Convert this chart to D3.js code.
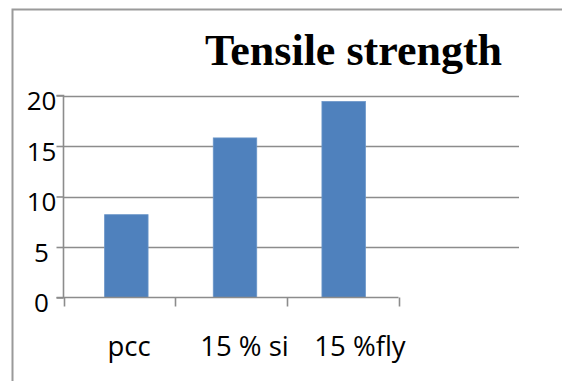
<!DOCTYPE html>
<html>
<head>
<meta charset="utf-8">
<script src="https://cdn.jsdelivr.net/npm/d3@7/dist/d3.min.js"></script>
<style>
  html, body { margin: 0; padding: 0; background: #fff; }
  svg { display: block; }
</style>
</head>
<body>
<svg id="chart" width="562" height="381"></svg>
<script>
const categories = ["pcc", "15 % si", "15 %fly"];
const values = [8.2, 15.8, 19.4];
const yTicks = [0, 5, 10, 15, 20];
const title = "Tensile strength";

const svg = d3.select("#chart");
const W = 562, H = 381;

svg.append("rect").attr("width", W).attr("height", H).attr("fill", "#fff");

// outer frame (left and top)
svg.append("path")
  .attr("d", `M12.5,${H} V9.5 H${W}`)
  .attr("fill", "none").attr("stroke", "#9a9a9a").attr("stroke-width", 2);

const y = d3.scaleLinear().domain([0, 20]).range([297.5, 95.5]);
const xAxisScale = d3.scaleBand().domain(categories).range([63.5, 398.5]);
const xBar = d3.scaleBand().domain(categories).range([72, 398]).paddingInner(0.6).paddingOuter(0.3);
const xLabel = d3.scalePoint().domain(categories).range([129, 360]);

// gridlines
svg.append("g").selectAll("line").data(yTicks.filter(d => d > 0)).join("line")
  .attr("x1", 63.5).attr("x2", 519)
  .attr("y1", d => Math.round(y(d)) + 0.5).attr("y2", d => Math.round(y(d)) + 0.5)
  .attr("stroke", "#8c8c8c").attr("stroke-width", 1.6);

// bars
svg.append("g").selectAll("rect").data(values).join("rect")
  .attr("x", (d, i) => xBar(categories[i]))
  .attr("width", xBar.bandwidth())
  .attr("y", d => y(d))
  .attr("height", d => y(0) - y(d))
  .attr("fill", "#4f81bd")
  .attr("stroke", "#6a95c8").attr("stroke-width", 0.8);

// y axis
const yAxis = svg.append("g").attr("transform", "translate(63.5,0)")
  .call(d3.axisLeft(y).tickValues(yTicks).tickSize(7).tickFormat(d3.format("d")));
yAxis.select(".domain").attr("stroke", "#8c8c8c").attr("stroke-width", 1.6)
  .attr("d", `M-7,${y(20)}H0V${y(0)}H-7`);
yAxis.selectAll(".tick line").attr("stroke", "#8c8c8c").attr("stroke-width", 1.6);
yAxis.selectAll(".tick text")
  .attr("x", -22).attr("dy", "0.55em")
  .attr("text-anchor", "middle")
  .attr("fill", "#000")
  .style("font-family", "'Open Sans', 'Noto Sans', sans-serif")
  .style("font-size", "26px");

// x axis
const xAxis = svg.append("g").attr("transform", `translate(0,${y(0)})`)
  .call(d3.axisBottom(xAxisScale).tickSize(0).tickFormat(""));
xAxis.select(".domain").attr("stroke", "#8c8c8c").attr("stroke-width", 1.6)
  .attr("d", `M63.5,0H398.5`);
xAxis.selectAll(".tick").remove();
const bounds = [xAxisScale.range()[0]].concat(categories.map(c => xAxisScale(c) + xAxisScale.bandwidth()));
xAxis.selectAll("line.sep").data(bounds).join("line").attr("class", "sep")
  .attr("x1", d => Math.round(d) + 0.5).attr("x2", d => Math.round(d) + 0.5)
  .attr("y1", 0).attr("y2", 9)
  .attr("stroke", "#8c8c8c").attr("stroke-width", 1.6);

svg.append("g").selectAll("text").data(categories).join("text")
  .attr("x", d => xLabel(d)).attr("y", 356)
  .attr("text-anchor", "middle")
  .style("font-family", "'Open Sans', 'Noto Sans', sans-serif")
  .style("font-size", "27.5px")
  .attr("fill", "#000")
  .text(d => d);

// title
svg.append("text")
  .attr("x", 353.5).attr("y", 65)
  .attr("text-anchor", "middle")
  .style("font-family", "'Liberation Serif', 'Times New Roman', serif")
  .style("font-weight", "bold")
  .style("font-size", "44px")
  .attr("fill", "#000")
  .text(title);
</script>
</body>
</html>
